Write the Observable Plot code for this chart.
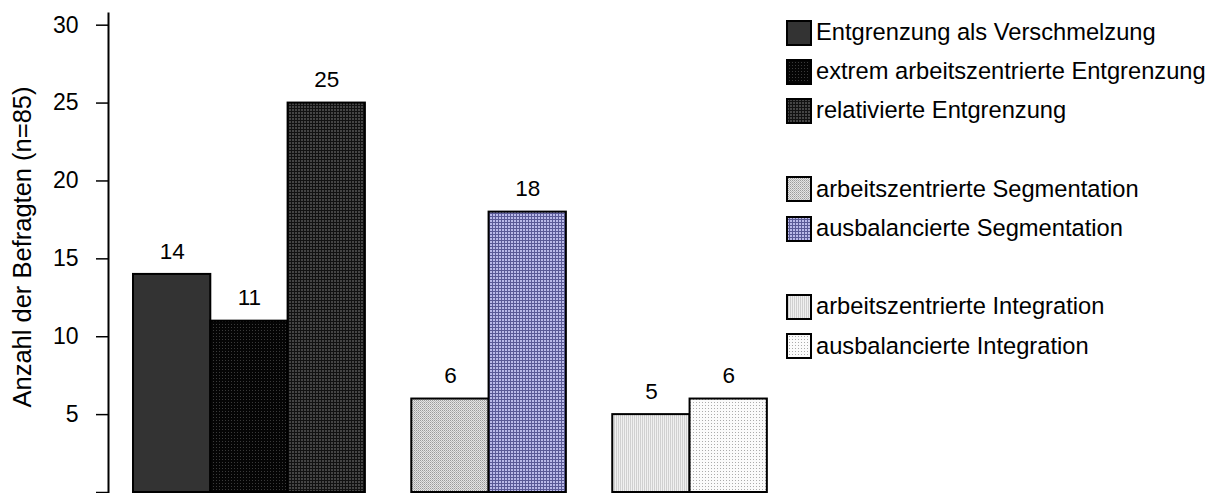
<!DOCTYPE html>
<html>
<head>
<meta charset="utf-8">
<script src="https://cdn.jsdelivr.net/npm/d3@7"></script>
<script src="https://cdn.jsdelivr.net/npm/@observablehq/plot@0.6"></script>
<style>
  body { margin: 0; background: #fff; font-family: "Liberation Sans", Arial, sans-serif; }
  #wrap { position: relative; width: 1220px; height: 493px; overflow: hidden; }
  #chart { position: absolute; left: 0; top: 0; }
  #legend { position: absolute; left: 786px; top: 0; }
  .item { position: absolute; left: 0; display: flex; align-items: center; white-space: nowrap;
          font-size: 23.7px; color: #000; }
  .item svg { margin-right: 4px; flex: none; }
</style>
</head>
<body>
<svg width="0" height="0" style="position:absolute"><defs id="pats"></defs></svg>
<div id="wrap"><div id="chart"></div><div id="legend"></div></div>
<script>
// Respondent types and how many respondents fall into each
const series = [
  "Entgrenzung als Verschmelzung",
  "extrem arbeitszentrierte Entgrenzung",
  "relativierte Entgrenzung",
  "arbeitszentrierte Segmentation",
  "ausbalancierte Segmentation",
  "arbeitszentrierte Integration",
  "ausbalancierte Integration"
];
const groupOf = [0, 0, 0, 1, 1, 2, 2];   // Entgrenzung / Segmentation / Integration
const counts = [14, 11, 25, 6, 18, 5, 6];
const yTicks = [0, 5, 10, 15, 20, 25, 30];
const yTitle = "Anzahl der Befragten (n=85)";

// Fill patterns, one per type (shared by bars and legend swatches)
const patternDefs = [
  `<rect width="4" height="4" fill="#333333"/>`,
  `<rect width="3" height="3" fill="#050505"/><rect width="1" height="1" fill="#3a3a3a"/>`,
  `<rect width="3" height="3" fill="#454545"/><rect width="1" height="3" fill="#121212"/><rect width="3" height="1" fill="#121212"/>`,
  `<rect width="2" height="2" fill="#e4e4e4"/><rect width="1" height="1" fill="#9a9a9a"/><rect x="1" y="1" width="1" height="1" fill="#b8b8b8"/>`,
  `<rect width="3" height="3" fill="#babae8"/><rect width="1" height="3" fill="#5a5a96"/><rect width="3" height="1" fill="#5a5a96"/>`,
  `<rect width="2" height="2" fill="#f0f0f0"/><rect width="1" height="2" fill="#d0d0d0"/>`,
  `<rect width="3" height="3" fill="#fbfbfb"/><rect width="1" height="1" fill="#ababab"/>`
];
const patSize = [4, 3, 3, 2, 3, 2, 3];
document.getElementById("pats").innerHTML = patternDefs.map((p, i) =>
  `<pattern id="pat${i}" width="${patSize[i]}" height="${patSize[i]}" patternUnits="userSpaceOnUse">${p}</pattern>`
).join("");

// Bars sit side by side within a group; groups are separated by a gap
const groupGap = 0.6;
const bars = series.map((name, i) => {
  const x1 = i + groupGap * groupOf[i];
  return { name, value: counts[i], x1, x2: x1 + 1, fill: `url(#pat${i})` };
});

const chart = Plot.plot({
  width: 780,
  height: 493,
  marginLeft: 108,
  marginRight: 0,
  marginTop: 13,
  marginBottom: 1,
  x: { domain: [-0.3234, 8.37], axis: null },
  y: { domain: [0, 30.75], axis: null },
  color: { type: "identity" },
  style: { fontFamily: "'Liberation Sans', Arial, sans-serif", fontSize: "23px", color: "#000", background: "#fff", overflow: "visible" },
  marks: [
    Plot.rectY(bars, { x1: "x1", x2: "x2", y: "value", fill: "fill", stroke: "#000", strokeWidth: 2 }),
    Plot.text(bars, { x: d => (d.x1 + d.x2) / 2, y: "value", text: d => String(d.value), dy: -23, lineAnchor: "middle", fontSize: 22.5, fill: "#000" }),
    Plot.axisY({ ticks: yTicks, tickSize: 12, tickPadding: 18, tickFormat: d => (d === 0 ? "" : String(d)), label: null, fontSize: 23, strokeWidth: 1.5 }),
    Plot.frame({ anchor: "left", stroke: "#000", strokeWidth: 2 }),
    Plot.text([yTitle], { frameAnchor: "left", rotate: -90, dx: -86, dy: -6, lineAnchor: "middle", textAnchor: "middle", fontSize: 25.5, fill: "#000" })
  ]
});
document.getElementById("chart").appendChild(chart);

// Legend on the right, with a blank row between groups
const legend = document.getElementById("legend");
series.forEach((name, i) => {
  const row = i + groupOf[i];
  const center = 32 + 39.2 * row;
  const item = document.createElement("div");
  item.className = "item";
  item.style.top = (center - 13) + "px";
  item.innerHTML = `<svg width="26" height="26"><rect x="1" y="1" width="24" height="24" fill="url(#pat${i})" stroke="#000" stroke-width="2"/></svg><span>${name}</span>`;
  legend.appendChild(item);
});
</script>
</body>
</html>
